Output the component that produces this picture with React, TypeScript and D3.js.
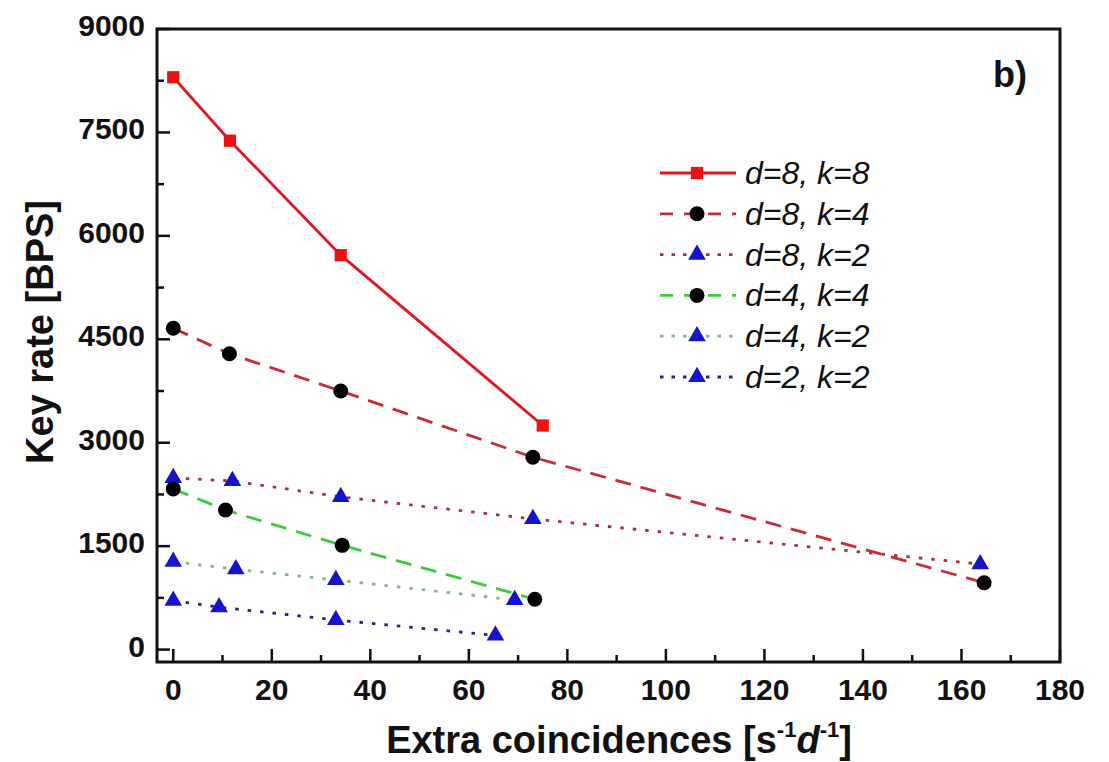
import React from "react";
import * as d3 from "d3";

// values
const xD8K8 = [0, 11.5, 34, 75];
const yD8K8 = [8300, 7380, 5720, 3250];
const xD8K4 = [0, 11.4, 34, 73, 164.6];
const yD8K4 = [4660, 4290, 3750, 2790, 970];
const xD8K2 = [0, 12, 34, 73, 163.8];
const yD8K2 = [2490, 2445, 2215, 1895, 1240];
const xD4K4 = [0, 10.6, 34.3, 73.4];
const yD4K4 = [2330, 2025, 1512, 730];
const xD4K2 = [0, 12.7, 33, 69.3];
const yD4K2 = [1275, 1165, 1010, 720];
const xD2K2 = [0, 9.3, 33, 65.4];
const yD2K2 = [710, 615, 430, 205];

const xTicks = [0, 20, 40, 60, 80, 100, 120, 140, 160, 180];
const xMinor = [10, 30, 50, 70, 90, 110, 130, 150, 170];
const yTicks = [0, 1500, 3000, 4500, 6000, 7500, 9000];
const yMinor = [750, 2250, 3750, 5250, 6750, 8250];

const seriesNames = ["d=8, k=8", "d=8, k=4", "d=8, k=2", "d=4, k=4", "d=4, k=2", "d=2, k=2"];

const font = "'Liberation Sans', Arial, sans-serif";

type Series = {
  name: string;
  xs: number[];
  ys: number[];
  color: string;
  dash: string | undefined;
  marker: "square" | "circle" | "triangle";
};

const series: Series[] = [
  { name: seriesNames[0], xs: xD8K8, ys: yD8K8, color: "#e0181e", dash: undefined, marker: "square" },
  { name: seriesNames[1], xs: xD8K4, ys: yD8K4, color: "#cc2a35", dash: "16 10", marker: "circle" },
  { name: seriesNames[2], xs: xD8K2, ys: yD8K2, color: "#a8323f", dash: "3.5 9", marker: "triangle" },
  { name: seriesNames[3], xs: xD4K4, ys: yD4K4, color: "#3ecb3e", dash: "16 10", marker: "circle" },
  { name: seriesNames[4], xs: xD4K2, ys: yD4K2, color: "#86b886", dash: "3.5 9", marker: "triangle" },
  { name: seriesNames[5], xs: xD2K2, ys: yD2K2, color: "#25257a", dash: "3.5 9", marker: "triangle" },
];

const W = 1109;
const H = 762;
const left = 157;
const right = 1060;
const top = 29;
const bottom = 662;

const triPath = d3.symbol(d3.symbolTriangle, 135)() || "";
const sqPath = d3.symbol(d3.symbolSquare, 150)() || "";

function Marker({ kind, x, y }: { kind: string; x: number; y: number }) {
  if (kind === "square") return <path d={sqPath} transform={`translate(${x},${y})`} fill="#ee1111" />;
  if (kind === "circle") return <circle cx={x} cy={y} r={7.5} fill="#000" />;
  return <path d={triPath} transform={`translate(${x},${y})`} fill="#1414cc" />;
}

export default function App() {
  const xScale = d3.scaleLinear().domain([-3.3, 180]).range([left, right]);
  const yScale = d3.scaleLinear().domain([-180, 9000]).range([bottom, top]);

  const line = d3
    .line<[number, number]>()
    .x((d) => xScale(d[0]))
    .y((d) => yScale(d[1]));

  const legX = 660;
  const legY0 = 173;
  const legStep = 40.8;

  return (
    <svg width={W} height={H} style={{ position: "absolute", left: 0, top: 0 }} fontFamily={font}>
      <rect width={W} height={H} fill="#fff" />

      {/* data lines */}
      {series.map((s) => (
        <path
          key={s.name + "-line"}
          d={line(s.xs.map((x, i) => [x, s.ys[i]] as [number, number])) || ""}
          fill="none"
          stroke={s.color}
          strokeWidth={2.8}
          strokeDasharray={s.dash}
        />
      ))}

      {/* markers */}
      {series.map((s) =>
        s.xs.map((x, i) => (
          <Marker key={s.name + i} kind={s.marker} x={xScale(x)} y={yScale(s.ys[i])} />
        ))
      )}

      {/* frame */}
      <rect x={left} y={top} width={right - left} height={bottom - top} fill="none" stroke="#111" strokeWidth={3} />

      {/* x ticks */}
      {xTicks.map((t) => (
        <g key={"xt" + t}>
          <line x1={xScale(t)} x2={xScale(t)} y1={bottom} y2={bottom - 13} stroke="#111" strokeWidth={2.5} />
          <text x={xScale(t)} y={700} textAnchor="middle" fontSize={30} fontWeight="bold" fill="#111">
            {t}
          </text>
        </g>
      ))}
      {xMinor.map((t) => (
        <line key={"xm" + t} x1={xScale(t)} x2={xScale(t)} y1={bottom} y2={bottom - 7} stroke="#111" strokeWidth={2.5} />
      ))}

      {/* y ticks */}
      {yTicks.map((t) => (
        <g key={"yt" + t}>
          <line x1={left} x2={left + 13} y1={yScale(t)} y2={yScale(t)} stroke="#111" strokeWidth={2.5} />
          <text x={145} y={yScale(t) + 7} textAnchor="end" fontSize={30} fontWeight="bold" fill="#111">
            {t}
          </text>
        </g>
      ))}
      {yMinor.map((t) => (
        <line key={"ym" + t} x1={left} x2={left + 7} y1={yScale(t)} y2={yScale(t)} stroke="#111" strokeWidth={2.5} />
      ))}

      {/* axis titles */}
      <text
        transform={`translate(53,332) rotate(-90)`}
        textAnchor="middle"
        fontSize={38}
        fontWeight="bold"
        fill="#111"
      >
        Key rate [BPS]
      </text>
      <text x={619} y={753} textAnchor="middle" fontSize={38} fontWeight="bold" fill="#111">
        Extra coincidences [s
        <tspan fontSize={22} dy={-16}>-1</tspan>
        <tspan dy={16} fontStyle="italic">d</tspan>
        <tspan fontSize={22} dy={-16}>-1</tspan>
        <tspan dy={16}>]</tspan>
      </text>

      {/* panel label */}
      <text x={993} y={87} fontSize={36} fontWeight="bold" fill="#111">
        b)
      </text>

      {/* legend */}
      {series.map((s, i) => {
        const y = legY0 + i * legStep;
        return (
          <g key={s.name + "-leg"}>
            <line x1={legX} x2={legX + 76} y1={y} y2={y} stroke={s.color} strokeWidth={2.8} strokeDasharray={s.dash ? (s.dash === "16 10" ? "13 11" : "3.5 8") : undefined} />
            <Marker kind={s.marker} x={legX + 37} y={y} />
            <text x={745} y={y + 11} fontSize={32} fontStyle="italic" fill="#111">
              {s.name}
            </text>
          </g>
        );
      })}
    </svg>
  );
}
